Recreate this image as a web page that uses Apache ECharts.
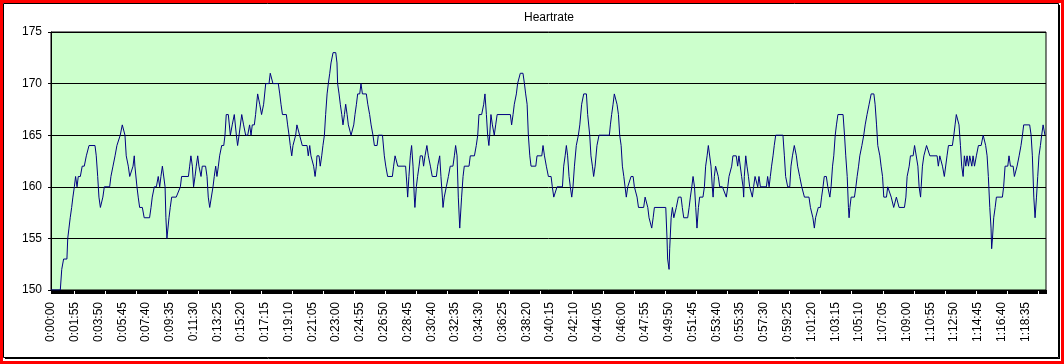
<!DOCTYPE html>
<html>
<head>
<meta charset="utf-8">
<script src="https://cdn.jsdelivr.net/npm/echarts@6/dist/echarts.min.js"></script>
<style>
html,body{margin:0;padding:0;background:#fff;}
#chart{width:1064px;height:364px;}
</style>
</head>
<body>
<div id="chart"></div>
<script>
// elapsed time in seconds
const seconds = [0,45,52,61,77,81,87,93,100,106,113,119,122,126,132,142,151,161,171,184,213,219,226,232,239,245,251,258,284,290,300,310,319,326,335,345,351,358,364,374,381,387,397,403,406,416,422,429,442,451,477,484,490,500,510,519,526,532,539,545,552,556,561,565,571,577,584,606,626,632,665,671,677,684,690,697,703,710,716,726,732,748,755,761,768,777,784,790,797,803,810,816,826,836,842,848,858,868,877,887,897,903,910,923,932,942,952,961,968,974,984,990,1000,1010,1019,1029,1039,1055,1061,1068,1074,1100,
1107,1113,1120,1139,1145,1152,1158,1165,1171,1178,1184,1190,1197,1203,1210,1216,1239,1245,1252,1258,1265,1271,1278,1284,1287,1297,1303,1310,1316,1323,1329,1336,1342,1349,1355,1365,1378,1384,1387,1394,1400,1407,1413,1420,1426,1433,1439,1445,1452,1458,1465,1471,1478,1484,1494,1500,1507,1526,1533,1542,1549,1558,1565,1578,1584,1604,1613,1620,1629,
1652,1658,1665,1671,1678,1716,1723,1726,1732,1739,1745,1752,1758,1761,1768,1774,1781,1787,1797,1803,1810,1819,1826,1836,1845,1852,1865,1871,1881,1887,1894,1897,1903,1913,1923,1932,1945,1952,1958,1965,1971,1978,1981,1987,1994,2000,2023,2029,2049,2058,2065,2071,2084,2094,2100,2107,2113,2119,2123,2129,2136,2145,2152,2159,
2165,2223,2229,2236,2242,2252,2258,2265,2271,2284,2291,2297,2304,2310,2317,2323,2346,2352,2375,2381,2388,2397,2407,2413,2420,2426,2433,2442,2449,2475,2481,2488,2494,2500,2507,2513,2520,2526,2533,2542,2552,2559,2568,2578,2591,2597,2607,2613,2620,2626,2633,2642,2652,2702,
2707,2713,2720,2726,2733,2739,2746,2752,2759,2765,2772,2778,2784,2791,2797,2807,2817,2823,2830,2836,2843,2868,2875,2881,2888,2894,2901,2907,2914,2920,2975,2981,2984,2991,2994,3001,3007,3014,3020,3026,3036,3049,3055,3062,3081,3088,3094,3101,3107,3114,3120,3126,3133,3139,3155,3162,3168,3175,3181,3188,3194,3200,3204,3210,
3216,3223,3229,3236,3249,3258,3268,3275,3281,3294,3300,3316,3323,3329,3336,3342,3349,3352,3355,3362,3368,3375,3381,3394,3400,3407,3413,3420,3426,3433,3462,3468,3475,3481,3487,3494,3500,3507,3542,3549,3555,3565,3575,3581,3588,3597,3607,3613,3623,3633,3646,3668,3675,3681,3687,3694,3700,3707,3713,3723,3729,3736,3742,3752,3759,
3769,3775,3782,3788,3795,3801,3808,3833,3840,3846,3853,3859,3862,3866,3872,3888,3895,3901,3908,3914,3924,3933,3940,3949,3959,3969,3982,3988,3995,4001,4011,4017,4024,4030,4043,4049,4056,4066,4072,4078,4085,4091,4098,4104,4130,4137,4143,4153,4159,4172,4179,4188,4195,4201,4208,4211,4217,4224,4237,4246,4253,4288,
4294,4301,4307,4314,4323,4330,4336,4343,4362,4369,4375,4381,4388,4394,4401,4407,4414,4420,4427,4433,4440,4446,4456,4462,4469,4478,4488,4501,4511,4517,4523,4530,4536,4543,4549,4552,4556,4562,4569,4575,4604,4610,4617,4630,4636,4643,4656,4662,4669,4675,4685,4694,4701,4707,4736,4743,4749,4756,4762,4769,4775,4781,4788,4794,4801,4810];

// heart rate in bpm at those times
const bpm = [150,150,152,153,153,155,156,157,158,159,160,161,161,160,161,161,162,162,163,164,164,163,161,159,158,158,159,160,160,161,162,163,164,164,165,166,166,165,163,162,161,161,162,163,162,160,159,158,158,157,157,158,159,160,160,161,160,161,162,162,160,157,155,155,157,158,159,159,160,161,161,162,163,162,160,161,162,163,162,161,162,162,161,159,158,158,160,161,162,161,162,163,164,164,165,167,167,165,166,167,165,164,165,167,166,165,165,166,165,166,166,167,169,168,167,168,170,170,171,171,170,170,
169,168,167,167,166,165,164,163,164,164,165,166,166,165,165,164,164,163,164,163,163,162,161,162,163,163,162,163,164,165,167,169,170,171,172,173,173,172,170,169,168,167,166,167,168,167,166,166,165,165,166,167,168,169,169,170,169,169,168,167,166,165,164,164,165,165,163,162,161,
161,162,163,163,162,162,160,159,161,163,164,162,159,158,160,161,162,163,163,162,163,164,163,162,161,161,161,162,163,161,159,158,159,160,161,162,162,163,164,163,159,156,156,159,161,162,162,163,163,164,165,167,167,168,169,167,165,164,165,167,166,165,166,167,
167,167,166,167,168,169,170,170,171,171,170,169,168,165,163,162,162,163,163,164,163,162,161,161,161,160,159,159,160,160,162,163,164,163,161,160,159,160,162,164,165,166,168,169,169,167,165,163,162,161,162,164,165,165,
166,167,168,169,169,168,167,165,164,162,161,160,159,160,160,161,161,160,160,159,158,158,159,159,158,157,157,156,157,158,158,155,153,152,154,157,158,157,157,158,159,159,158,157,157,158,159,160,161,160,158,156,158,159,159,160,162,163,164,164,162,160,159,161,
162,162,161,160,160,160,159,160,161,162,163,163,162,163,163,161,160,159,161,163,162,161,160,159,160,161,161,160,161,160,160,161,160,161,162,163,164,165,165,163,161,160,160,162,163,164,163,162,161,160,159,159,158,158,157,156,157,157,158,158,159,160,161,161,160,
159,160,162,163,165,166,167,167,165,163,161,158,157,158,159,159,160,161,162,163,164,165,166,167,168,169,169,168,166,164,163,162,161,159,159,160,160,159,159,158,158,159,159,158,158,159,161,162,163,163,164,164,162,160,159,160,162,163,164,164,163,163,
162,163,163,162,161,161,163,164,164,165,166,167,167,166,164,162,161,163,162,163,162,163,162,163,162,163,164,164,165,165,164,163,161,158,156,154,155,157,158,159,159,160,162,162,163,162,162,161,161,162,163,164,165,166,166,165,163,159,157,159,161,163,164,165,166,165];

const yTicks = {min: 150, max: 175, step: 5};
const xTickStep = 115; // seconds between x labels
const xMax = 4815;
const title = 'Heartrate';

function fmt(s) {
  const h = Math.floor(s / 3600);
  const m = Math.floor((s % 3600) / 60);
  const sec = s % 60;
  return h + ':' + String(m).padStart(2, '0') + ':' + String(sec).padStart(2, '0');
}

const pts = seconds.map((t, i) => [t, bpm[i]]);
const FONT = "'Liberation Sans', Arial, sans-serif";

const chart = echarts.init(document.getElementById('chart'), null, {renderer: 'canvas'});
chart.setOption({
  animation: false,
  backgroundColor: '#ffffff',
  graphic: [
    {type: 'rect', shape: {x: 1.5, y: 1.5, width: 1061, height: 361}, style: {fill: null, stroke: '#ff0000', lineWidth: 3}, z: 10},
    {type: 'rect', shape: {x: 3.5, y: 3.5, width: 1055, height: 354}, style: {fill: null, stroke: '#000000', lineWidth: 1}, z: 10},
    {type: 'line', shape: {x1: 5, y1: 358.5, x2: 1059, y2: 358.5}, style: {stroke: '#000', lineWidth: 1}, z: 10},
    {type: 'line', shape: {x1: 1059.5, y1: 5, x2: 1059.5, y2: 359}, style: {stroke: '#000', lineWidth: 1}, z: 10},
    {type: 'text', x: 549, y: 18, style: {text: title, font: '12px ' + FONT, fill: '#000', textAlign: 'center', textVerticalAlign: 'middle'}}
  ],
  grid: {
    left: 51, right: 18, top: 32, bottom: 74,
    show: true, backgroundColor: '#ccffcc', borderColor: '#000', borderWidth: 1
  },
  xAxis: {
    type: 'value', min: 0, max: xMax, interval: xTickStep,
    axisLine: {show: true, lineStyle: {color: '#000', width: 1}},
    axisTick: {show: true, length: 4, lineStyle: {color: '#000'}},
    minorTick: {show: true, splitNumber: 23, length: 4, lineStyle: {color: '#000'}},
    splitLine: {show: false},
    axisLabel: {
      rotate: 90, margin: 12, color: '#000', fontSize: 12, fontFamily: FONT,
      showMaxLabel: false,
      formatter: v => (v % xTickStep === 0 ? fmt(v) : '')
    }
  },
  yAxis: {
    type: 'value', min: yTicks.min, max: yTicks.max, interval: yTicks.step,
    axisLine: {show: true, lineStyle: {color: '#000'}},
    axisTick: {show: true, length: 3, lineStyle: {color: '#000'}},
    splitLine: {show: true, lineStyle: {color: '#000', width: 1}},
    axisLabel: {color: '#000', fontSize: 12, fontFamily: FONT, margin: 9}
  },
  series: [{
    type: 'line', data: pts, showSymbol: false, symbol: 'none',
    lineStyle: {color: '#000080', width: 1}, clip: true
  }]
});
</script>
</body>
</html>
